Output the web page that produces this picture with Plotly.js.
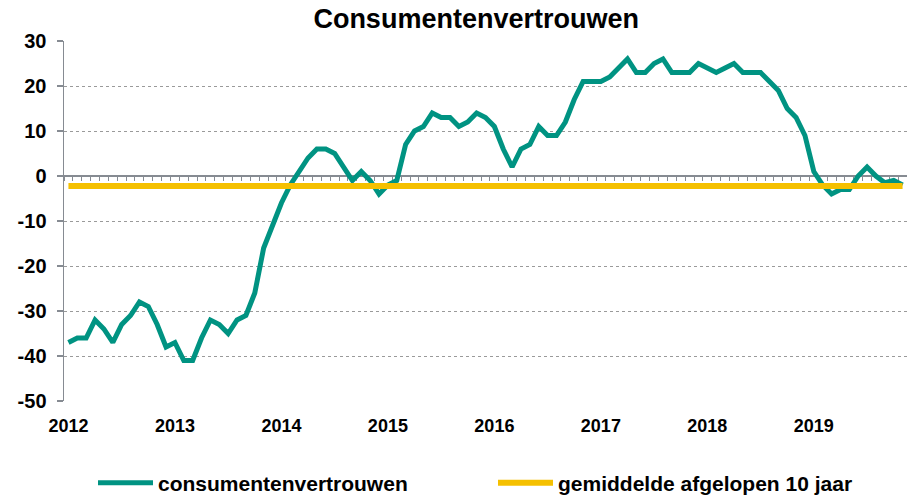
<!DOCTYPE html>
<html>
<head>
<meta charset="utf-8">
<script src="https://cdn.plot.ly/plotly-3.0.1.min.js"></script>
<style>
  html, body { margin: 0; padding: 0; background: #ffffff; }
  #chart { width: 907px; height: 496px; }
</style>
</head>
<body>
<div id="chart"></div>
<script>
// ---- data (monthly, Jan 2012 .. Nov 2019) ----
const years = ["2012", "2013", "2014", "2015", "2016", "2017", "2018", "2019"];
const monthNames = ["jan", "feb", "mrt", "apr", "mei", "jun", "jul", "aug", "sep", "okt", "nov", "dec"];

const confidence2012 = [-37, -36, -36, -32, -34, -37, -33, -31, -28, -29, -33, -38];
const confidence2013 = [-37, -41, -41, -36, -32, -33, -35, -32, -31, -26, -16, -11];
const confidence2014 = [-6, -2, 1, 4, 6, 6, 5, 2, -1, 1, -1, -4];
const confidence2015 = [-2, -1, 7, 10, 11, 14, 13, 13, 11, 12, 14, 13];
const confidence2016 = [11, 6, 2, 6, 7, 11, 9, 9, 12, 17, 21, 21];
const confidence2017 = [21, 22, 24, 26, 23, 23, 25, 26, 23, 23, 23, 25];
const confidence2018 = [24, 23, 24, 25, 23, 23, 23, 21, 19, 15, 13, 9];
const confidence2019 = [1, -2, -4, -3, -3, 0, 2, 0, -1.5, -1, -2];

const tenYearAverage = -2.2;

const yTickVals = [-50, -40, -30, -20, -10, 0, 10, 20, 30];
const yTickText = ["-50", "-40", "-30", "-20", "-10", "0", "10", "20", "30"];

const seriesNames = ["consumentenvertrouwen", "gemiddelde afgelopen 10 jaar"];

// ---- build helpers ----
const confidence = [].concat(confidence2012, confidence2013, confidence2014, confidence2015,
                             confidence2016, confidence2017, confidence2018, confidence2019);
const monthLabels = [];
years.forEach(y => monthNames.forEach(m => monthLabels.push(m + " " + y)));
monthLabels.length = confidence.length;
const monthIndex = monthLabels.map((_, i) => i);
const yearTickVals = years.map((_, i) => i * 12);

const avgX = [monthIndex[0], monthIndex[monthIndex.length - 1]];
const avgY = [tenYearAverage, tenYearAverage];

const TEAL = "#009382";
const YELLOW = "#F5C000";
const AXIS_GRAY = "#868B92";
const FONT = "Liberation Sans, Arial, sans-serif";

const traces = [
  {
    x: monthIndex, y: confidence, text: monthLabels,
    type: "scatter", mode: "lines", name: seriesNames[0],
    line: { color: TEAL, width: 5 },
    hovertemplate: "%{text}: %{y}<extra></extra>",
    legend: "legend"
  },
  {
    x: avgX, y: avgY,
    type: "scatter", mode: "lines", name: seriesNames[1],
    xaxis: "x2", yaxis: "y",
    line: { color: YELLOW, width: 6 },
    legend: "legend2"
  }
];

const legendFont = { family: FONT, size: 21, weight: 700, color: "#000000" };

const layout = {
  width: 907, height: 496,
  margin: { l: 64, r: 0, t: 41, b: 95, pad: 0, autoexpand: false },
  paper_bgcolor: "#ffffff", plot_bgcolor: "#ffffff",
  font: { family: FONT, color: "#000000", size: 18 },
  title: {
    text: "Consumentenvertrouwen",
    font: { family: FONT, size: 27, weight: 700, color: "#000000" },
    x: 0.525, xref: "container", xanchor: "center",
    y: 0.962, yref: "container", yanchor: "middle"
  },
  showlegend: true,
  xaxis: {
    type: "linear", range: [-0.5, 94.5],
    tickmode: "array", tickvals: yearTickVals, ticktext: years,
    ticks: "", showline: false, showgrid: false, zeroline: false,
    tickfont: { family: FONT, size: 18, weight: 700, color: "#000000" },
    ticklabelstandoff: 12, fixedrange: true
  },
  xaxis2: {
    overlaying: "x", matches: "x", anchor: "free", position: 0.625,
    tickmode: "linear", tick0: -0.5, dtick: 1,
    ticks: "outside", ticklen: 4, tickwidth: 1, tickcolor: AXIS_GRAY,
    showline: true, linecolor: AXIS_GRAY, linewidth: 2,
    showticklabels: false, showgrid: false, zeroline: false,
    layer: "below traces"
  },
  yaxis: {
    range: [-50, 30], tickmode: "array", tickvals: yTickVals, ticktext: yTickText,
    showgrid: true, gridcolor: "#9a9a9a", griddash: "dot", gridwidth: 1,
    zeroline: false, showline: true, linecolor: AXIS_GRAY, linewidth: 1.5,
    ticks: "outside", ticklen: 6, tickcolor: AXIS_GRAY, tickwidth: 1.5,
    tickfont: { family: FONT, size: 20, weight: 700, color: "#000000" },
    ticklabelstandoff: 6, fixedrange: true
  },
  legend: {
    orientation: "h", x: (93 - 64) / 843, xref: "paper", xanchor: "left",
    y: 1 - 483 / 496, yref: "container", yanchor: "middle", itemwidth: 55,
    font: legendFont, bgcolor: "rgba(0,0,0,0)", borderwidth: 0
  },
  legend2: {
    orientation: "h", x: (493 - 64) / 843, xref: "paper", xanchor: "left",
    y: 1 - 483 / 496, yref: "container", yanchor: "middle", itemwidth: 55,
    font: legendFont, bgcolor: "rgba(0,0,0,0)", borderwidth: 0
  }
};

Plotly.newPlot("chart", traces, layout, { displayModeBar: false, staticPlot: true });
</script>
</body>
</html>
